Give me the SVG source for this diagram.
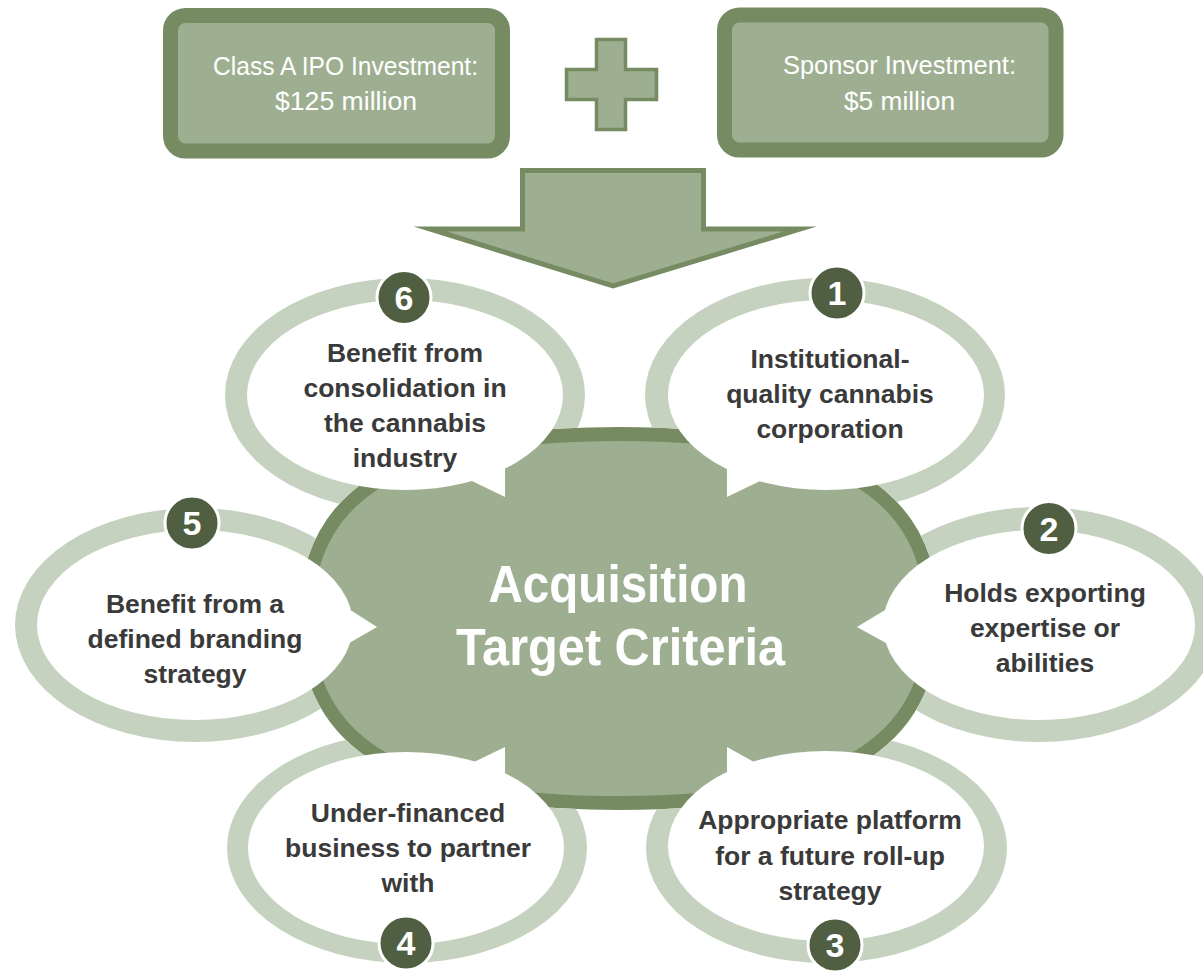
<svg xmlns="http://www.w3.org/2000/svg" width="1203" height="974" viewBox="0 0 1203 974">
<style>
.box{fill:#9eaf91;stroke:#768b62;stroke-width:15}
.shape{fill:#9eaf91;stroke:#768b62;stroke-width:3.5;stroke-linejoin:miter;stroke-miterlimit:12}
.boxtxt{font-family:"Liberation Sans",Arial,sans-serif;font-size:25px;fill:#ffffff;text-anchor:middle}
.ring{fill:#c5d2bf}
.bubble{fill:#ffffff}
.num{fill:#505f42;stroke:#ffffff;stroke-width:3}
.numtxt{font-family:"Liberation Sans",Arial,sans-serif;font-weight:bold;font-size:34px;fill:#ffffff;text-anchor:middle}
.crit{font-family:"Liberation Sans",Arial,sans-serif;font-weight:bold;font-size:26.5px;fill:#3a3a3a;text-anchor:middle}
.title{font-family:"Liberation Sans",Arial,sans-serif;font-weight:bold;font-size:51px;fill:#ffffff;text-anchor:middle}
</style>
<defs>
<mask id="outsideCenter" maskUnits="userSpaceOnUse" x="0" y="0" width="1203" height="974">
<rect x="0" y="0" width="1203" height="974" fill="#ffffff"/>
<path d="M932,618.5 C932,745.4 834.3,803 619,803 C403.7,803 306,745.4 306,618.5 C306,491.6 403.7,434 619,434 C834.3,434 932,491.6 932,618.5Z" fill="#000000" stroke="#000000" stroke-width="14"/>
</mask>
</defs>

<g id="connectors">
<polygon id="plus" class="shape" points="596.5,39.5 625.5,39.5 625.5,69.5 656.5,69.5 656.5,99.5 625.5,99.5 625.5,129.5 596.5,129.5 596.5,99.5 566.5,99.5 566.5,69.5 596.5,69.5"/>
<polygon id="arrow" class="shape" style="stroke-width:5" points="522.5,170.5 703.5,170.5 703.5,229 800,229 613,286 430,229 522.5,229"/>
</g>

<g id="node-ipo">
<rect class="box" x="170.5" y="15.5" width="332" height="135.5" rx="15"/>
<text class="boxtxt" x="345.5" y="75" textLength="265" lengthAdjust="spacingAndGlyphs">Class A IPO Investment:</text>
<text class="boxtxt" x="346" y="110" textLength="142" lengthAdjust="spacingAndGlyphs">$125 million</text>
</g>

<g id="node-sponsor">
<rect class="box" x="724.5" y="15" width="331.5" height="135" rx="15"/>
<text class="boxtxt" x="899.5" y="74" textLength="233" lengthAdjust="spacingAndGlyphs">Sponsor Investment:</text>
<text class="boxtxt" x="899.5" y="110" textLength="111" lengthAdjust="spacingAndGlyphs">$5 million</text>
</g>

<g id="node-center">
<path d="M932,618.5 C932,745.4 834.3,803 619,803 C403.7,803 306,745.4 306,618.5 C306,491.6 403.7,434 619,434 C834.3,434 932,491.6 932,618.5Z" fill="#9eaf91" stroke="#768b62" stroke-width="14"/>
<text class="title" x="618" y="602" textLength="259" lengthAdjust="spacingAndGlyphs">Acquisition</text>
<text class="title" x="620.5" y="665" textLength="329" lengthAdjust="spacingAndGlyphs">Target Criteria</text>
</g>

<g id="crit-1">
<ellipse class="ring" cx="825" cy="395" rx="180" ry="117" mask="url(#outsideCenter)"/>
<ellipse class="bubble" cx="826" cy="395" rx="158" ry="95"/>
<polygon class="bubble" points="727,460 727,497 760,481 752,460"/>
<circle class="num" cx="837" cy="293" r="27"/>
<text class="numtxt" x="837" y="305">1</text>
<text class="crit" x="830" y="368">Institutional-</text>
<text class="crit" x="830" y="403">quality cannabis</text>
<text class="crit" x="830" y="438">corporation</text>
</g>

<g id="crit-2">
<ellipse class="ring" cx="1039" cy="624.5" rx="180" ry="117.5" mask="url(#outsideCenter)"/>
<ellipse class="bubble" cx="1039" cy="625" rx="156" ry="95"/>
<polygon class="bubble" points="895,607 885,610 857,627 886,643 895,646"/>
<circle class="num" cx="1049" cy="528.5" r="27"/>
<text class="numtxt" x="1049" y="540.5">2</text>
<text class="crit" x="1045" y="602">Holds exporting</text>
<text class="crit" x="1045" y="637">expertise or</text>
<text class="crit" x="1045" y="672">abilities</text>
</g>

<g id="crit-3">
<ellipse class="ring" cx="826.5" cy="848" rx="180.5" ry="115" mask="url(#outsideCenter)"/>
<ellipse class="bubble" cx="826" cy="846" rx="158" ry="95"/>
<polygon class="bubble" points="727,785 727,747 754,762 750,785"/>
<circle class="num" cx="835" cy="945" r="27"/>
<text class="numtxt" x="835" y="957">3</text>
<text class="crit" x="830" y="829">Appropriate platform</text>
<text class="crit" x="830" y="865">for a future roll-up</text>
<text class="crit" x="830" y="900">strategy</text>
</g>

<g id="crit-4">
<ellipse class="ring" cx="407" cy="848" rx="180" ry="115" mask="url(#outsideCenter)"/>
<ellipse class="bubble" cx="406" cy="848" rx="158" ry="96"/>
<polygon class="bubble" points="505,785 505,747 474,762 480,785"/>
<circle class="num" cx="406" cy="943" r="27"/>
<text class="numtxt" x="406" y="955">4</text>
<text class="crit" x="408" y="822">Under-financed</text>
<text class="crit" x="408" y="857">business to partner</text>
<text class="crit" x="408" y="892">with</text>
</g>

<g id="crit-5">
<ellipse class="ring" cx="195" cy="625" rx="180" ry="117" mask="url(#outsideCenter)"/>
<ellipse class="bubble" cx="195" cy="625" rx="158" ry="95"/>
<polygon class="bubble" points="340,608 352,611 377,627 351,642 340,645"/>
<circle class="num" cx="192" cy="523" r="27"/>
<text class="numtxt" x="192" y="535">5</text>
<text class="crit" x="195" y="613">Benefit from a</text>
<text class="crit" x="195" y="648">defined branding</text>
<text class="crit" x="195" y="683">strategy</text>
</g>

<g id="crit-6">
<ellipse class="ring" cx="405" cy="395" rx="180" ry="117" mask="url(#outsideCenter)"/>
<ellipse class="bubble" cx="405" cy="395" rx="158" ry="95"/>
<polygon class="bubble" points="505,460 505,497 472,481 480,460"/>
<circle class="num" cx="404" cy="297.5" r="27"/>
<text class="numtxt" x="404" y="309.5">6</text>
<text class="crit" x="405" y="362">Benefit from</text>
<text class="crit" x="405" y="397">consolidation in</text>
<text class="crit" x="405" y="432">the cannabis</text>
<text class="crit" x="405" y="467">industry</text>
</g>
</svg>
